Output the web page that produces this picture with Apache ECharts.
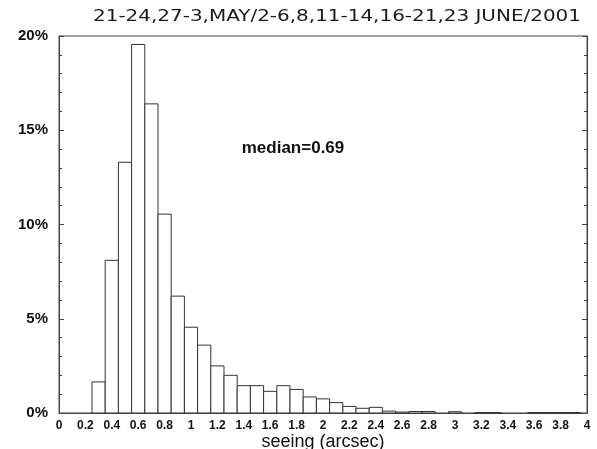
<!DOCTYPE html>
<html>
<head>
<meta charset="utf-8">
<script src="https://cdn.jsdelivr.net/npm/echarts@6/dist/echarts.min.js"></script>
<style>html,body{margin:0;padding:0;background:#fff;}#c{width:597px;height:449px;}</style>
</head>
<body>
<div id="c"></div>
<script>
// Histogram of seeing (arcsec), bin centres and percentages
const titleText = '21-24,27-3,MAY/2-6,8,11-14,16-21,23 JUNE/2001';
const medianText = 'median=0.69';
const xName = 'seeing (arcsec)';
const binCenters = [0.3,0.4,0.5,0.6,0.7,0.8,0.9,1.0,1.1,1.2,1.3,1.4,1.5,1.6,1.7,1.8,1.9,2.0,2.1,2.2,2.3,2.4,2.5,2.6,2.7,2.8,2.9,3.0,3.1,3.2,3.3,3.4,3.5,3.6,3.7,3.8,3.9];
const percents   = [1.65,8.1,13.3,19.55,16.4,10.55,6.2,4.55,3.6,2.5,2.0,1.45,1.45,1.15,1.45,1.25,0.85,0.75,0.55,0.35,0.25,0.3,0.1,0.05,0.08,0.08,0,0.07,0,0.02,0.02,0,0,0.02,0.02,0.02,0.02];
const binWidth = 0.1;
const xMin = 0, xMax = 4, xStep = 0.2;
const yMin = 0, yMax = 20, yStep = 5;

const data = binCenters.map((c, i) => [c, percents[i]]).filter(d => d[1] > 0);

const chart = echarts.init(document.getElementById('c'), null, {renderer: 'canvas'});
const axisColor = '#444';
const yAxisBase = {
  type: 'value', min: yMin, max: yMax, interval: yStep,
  axisLine: {show: true, lineStyle: {color: axisColor, width: 1}},
  axisTick: {show: true, inside: true, length: 5, lineStyle: {color: axisColor}},
  minorTick: {show: true, splitNumber: 5, length: 3, lineStyle: {color: axisColor}},
  splitLine: {show: false}
};
chart.setOption({
  animation: false,
  backgroundColor: '#fff',
  grid: {left: 59, right: 10, top: 36, bottom: 36, containLabel: false, outerBoundsMode: 'none',
    show: true, borderColor: axisColor, borderWidth: 1},
  graphic: [{
    type: 'text', x: 337, y: 17, scaleX: 1.33,
    style: {text: titleText, font: '15px "DejaVu Sans"', fill: '#1a1a1a', textAlign: 'center', textVerticalAlign: 'middle'}
  }, {
    type: 'text', x: 293, y: 148,
    style: {text: medianText, font: 'bold 17px "Liberation Sans"', fill: '#111', textAlign: 'center', textVerticalAlign: 'middle'}
  }],
  xAxis: {
    type: 'value', min: xMin, max: xMax, interval: xStep,
    name: xName, nameLocation: 'middle', nameGap: 20, nameMoveOverlap: false,
    nameTextStyle: {fontFamily: 'Liberation Sans', fontSize: 18, color: '#111', verticalAlign: 'top'},
    axisLine: {show: true, lineStyle: {color: axisColor}},
    axisTick: {show: false},
    splitLine: {show: false},
    axisLabel: {fontFamily: 'Liberation Sans', fontWeight: 'bold', fontSize: 12, color: '#111', margin: 7,
      formatter: v => String(+v.toFixed(1))}
  },
  yAxis: [
    Object.assign({}, yAxisBase, {
      position: 'left',
      axisLabel: {fontFamily: 'Liberation Sans', fontWeight: 'bold', fontSize: 15, color: '#111', margin: 11, formatter: '{value}%'}
    }),
    Object.assign({}, yAxisBase, {position: 'right', axisLabel: {show: false}})
  ],
  series: [{
    type: 'custom',
    data: data,
    renderItem: function (params, api) {
      const x = api.value(0), y = api.value(1);
      const p0 = api.coord([x - binWidth / 2, y]);
      const p1 = api.coord([x + binWidth / 2, 0]);
      return {
        type: 'rect',
        shape: {x: p0[0], y: p0[1], width: p1[0] - p0[0], height: p1[1] - p0[1]},
        style: {fill: '#fff', stroke: '#333', lineWidth: 1}
      };
    },
    encode: {x: 0, y: 1}
  }]
});
</script>
</body>
</html>
